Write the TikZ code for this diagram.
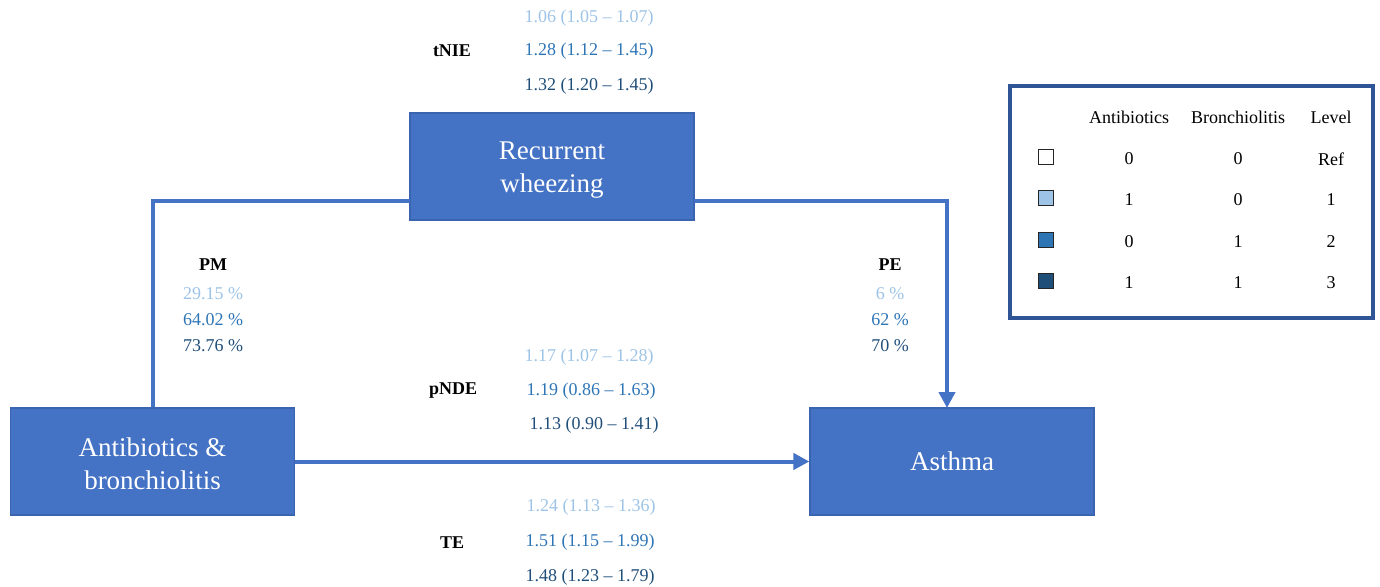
\documentclass[tikz,border=0pt]{standalone}
\usepackage{fontspec}
\setmainfont{Liberation Serif}
\usetikzlibrary{arrows.meta}

\definecolor{boxblue}{HTML}{4472C4}
\definecolor{boxedge}{HTML}{3A64B0}
\definecolor{legedge}{HTML}{2F5597}
\definecolor{lvlone}{HTML}{9DC3E6}
\definecolor{lvltwo}{HTML}{2E75B6}
\definecolor{lvlthree}{HTML}{1F4E79}

\begin{document}
\begin{tikzpicture}[x=0.5pt,y=-0.5pt,
    varbox/.style={draw=boxedge,line width=0.6pt,fill=boxblue,text=white,
      minimum width=142pt,minimum height=53.5pt,inner sep=0pt,align=center,
      font=\fontsize{13.5}{16.5}\selectfont},
    path/.style={draw=boxblue,line width=2pt},
    small/.style={inner sep=0pt,yshift=-1pt,font=\fontsize{9}{11}\selectfont},
    head/.style={small,font=\fontsize{9}{11}\selectfont\bfseries},
    keybox/.style={draw=black!85,line width=0.7pt,minimum size=7.5pt,inner sep=0pt}]

    \useasboundingbox (0,0) rectangle (1380,587);

    % variables
    \node[varbox] (wheeze) at (552,166.5) {};
    \node[varbox] (abx) at (152.5,461.5) {};
    \node[varbox] (asthma) at (952,461.5) {Asthma};

    \node[align=center,text=white,font=\fontsize{13.5}{16.5}\selectfont,yshift=-2pt] (wheezetxt) at (wheeze) {Recurrent\\wheezing};
    \node[align=center,text=white,font=\fontsize{13.5}{16.5}\selectfont,yshift=-1pt] (abxtxt) at (abx) {Antibiotics \&\\bronchiolitis};

    \coordinate (wl) at (410,201);
    \coordinate (wr) at (694,201);
    \coordinate (ain) at (947,408);

    \draw[path] (abx.north) |- (wl);
    \draw[path,-{Triangle[length=8pt,width=8pt]}] (wr) -| (ain);
    \draw[path,-{Triangle[length=8pt,width=8pt]}] (abx.east) -- (asthma.west);

    % tNIE
    \node[head] (tnie) at (452,49) {tNIE};
    \node[small,text=lvlone] (tnie1) at (589,16) {1.06 (1.05 -- 1.07)};
    \node[small,text=lvltwo] (tnie2) at (589,49) {1.28 (1.12 -- 1.45)};
    \node[small,text=lvlthree] (tnie3) at (589,84) {1.32 (1.20 -- 1.45)};

    % PM
    \node[head] (pm) at (213,263) {PM};
    \node[small,text=lvlone] (pm1) at (213,292) {29.15 \%};
    \node[small,text=lvltwo] (pm2) at (213,318) {64.02 \%};
    \node[small,text=lvlthree] (pm3) at (213,344) {73.76 \%};

    % PE
    \node[head] (pe) at (890,263) {PE};
    \node[small,text=lvlone] (pe1) at (890,292) {6 \%};
    \node[small,text=lvltwo] (pe2) at (890,318) {62 \%};
    \node[small,text=lvlthree] (pe3) at (890,344) {70 \%};

    % pNDE
    \node[head] (pnde) at (453,389) {pNDE};
    \node[small,text=lvlone] (pnde1) at (589,355) {1.17 (1.07 -- 1.28)};
    \node[small,text=lvltwo] (pnde2) at (591,389) {1.19 (0.86 -- 1.63)};
    \node[small,text=lvlthree] (pnde3) at (594,423) {1.13 (0.90 -- 1.41)};

    % TE
    \node[head] (te) at (452,541) {TE};
    \node[small,text=lvlone] (te1) at (591,505) {1.24 (1.13 -- 1.36)};
    \node[small,text=lvltwo] (te2) at (590,540) {1.51 (1.15 -- 1.99)};
    \node[small,text=lvlthree] (te3) at (590,575) {1.48 (1.23 -- 1.79)};

    % key
    \node[draw=legedge,line width=2pt,minimum width=181.5pt,minimum height=116pt,
      inner sep=0pt] (key) at (1191.5,202) {};

    \node[small] (kabx) at (1129,115) {Antibiotics};
    \node[small] (kbro) at (1238,115) {Bronchiolitis};
    \node[small] (klvl) at (1331,115) {Level};

    \node[keybox,fill=white] (k0) at (1046,157) {};
    \node[keybox,fill=lvlone] (k1) at (1046,198) {};
    \node[keybox,fill=lvltwo] (k2) at (1046,240) {};
    \node[keybox,fill=lvlthree] (k3) at (1046,281) {};

    \node[small] (k0a) at (1129,157) {0};
    \node[small] (k0b) at (1238,157) {0};
    \node[small] (k0l) at (1331,157) {Ref};

    \node[small] (k1a) at (1129,198) {1};
    \node[small] (k1b) at (1238,198) {0};
    \node[small] (k1l) at (1331,198) {1};

    \node[small] (k2a) at (1129,240) {0};
    \node[small] (k2b) at (1238,240) {1};
    \node[small] (k2l) at (1331,240) {2};

    \node[small] (k3a) at (1129,281) {1};
    \node[small] (k3b) at (1238,281) {1};
    \node[small] (k3l) at (1331,281) {3};

  \end{tikzpicture}
\end{document}
